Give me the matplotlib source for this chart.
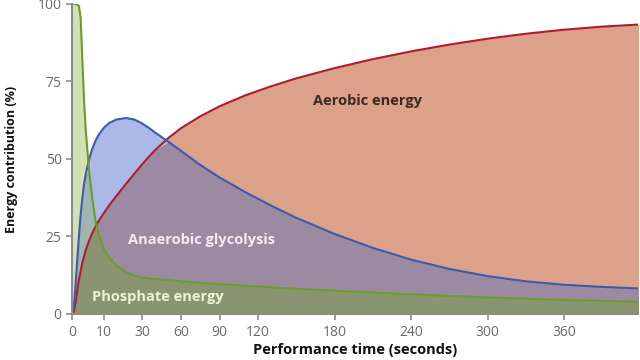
import numpy as np
import matplotlib
matplotlib.use("Agg")
import matplotlib.pyplot as plt

# ---- data ----
time_s = [0, 0.5, 1, 1.5, 2, 2.5, 3, 3.5, 4, 5, 6, 7, 8, 10, 12, 15, 20, 25, 30, 35,
          40, 50, 60, 75, 90, 110, 130, 150, 180, 210, 240, 270, 300, 330, 360, 390, 420]
phosphate = [100, 100, 100, 99.8, 99.3, 95.5, 82, 69, 59.5, 46.5, 37.5, 30.5, 25.8, 21, 18.2, 15.6, 13.4, 12.3, 11.8, 11.5,
             11.3, 10.9, 10.5, 10.0, 9.6, 9.1, 8.6, 8.1, 7.5, 6.9, 6.3, 5.8, 5.3, 4.9, 4.5, 4.2, 3.9]
glycolysis = [0, 2, 9, 17, 25, 32, 37.5, 41.8, 45, 49.8, 53.2, 55.7, 57.6, 60.1, 61.6, 62.7, 63.2, 62.7, 61.5, 60,
              58.4, 55.5, 52.5, 48, 44, 39.3, 35, 31, 25.8, 21.3, 17.5, 14.5, 12.2, 10.5, 9.4, 8.7, 8.2]
aerobic = [0, 0.5, 3.5, 7.5, 11, 13.8, 16.5, 18.6, 20.5, 23.5, 26, 28, 29.8, 32.6, 35, 38, 42, 45.3, 48.2, 50.7,
           53, 56.8, 60, 63.8, 67, 70.5, 73.4, 76, 79.3, 82.2, 84.7, 86.9, 88.8, 90.4, 91.7, 92.7, 93.4]

x_ticks = [0, 10, 30, 60, 90, 120, 180, 240, 300, 360]
y_ticks = [0, 25, 50, 75, 100]

t = np.array(time_s, dtype=float)
ph = np.array(phosphate)
gl = np.array(glycolysis)
ae = np.array(aerobic)

# smooth non-linear time axis (early seconds stretched, linear afterwards)
_grid = np.linspace(0, 2000, 20001)

def fwd(v):
    v = np.asarray(v, dtype=float)
    return 1.2767 * v + 32.8 * np.tanh(v / 14.9)

_pgrid = fwd(_grid)

def inv(v):
    return np.interp(v, _pgrid, _grid)

fig = plt.figure(figsize=(6.4, 3.6), dpi=100)
ax = fig.add_axes([0.1125, 0.128, 0.885, 0.861])
ax.set_xscale('function', functions=(fwd, inv))

c_aer = '#dba189'
c_gly = '#abb8e8'
c_gly_aer = '#9c8aa2'
c_pho = '#d3e0b4'
c_pho_gly = '#9fb5b0'
c_pho_aer = '#8b9470'

ax.fill_between(t, 0, ae, color=c_aer, lw=0)
ax.fill_between(t, 0, gl, color=c_gly, lw=0)
ax.fill_between(t, 0, np.minimum(gl, ae), color=c_gly_aer, lw=0)
ax.fill_between(t, 0, ph, color=c_pho, lw=0)
ax.fill_between(t, 0, np.minimum(ph, gl), color=c_pho_gly, lw=0)
ax.fill_between(t, 0, np.minimum(ph, ae), color=c_pho_aer, lw=0)

ax.plot(t, ae, color='#b01c2c', lw=1.5)
ax.plot(t, gl, color='#3d5bab', lw=1.5)
ax.plot(t, ph, color='#6a9c2e', lw=1.5)

ax.set_xlim(0, 418)
ax.set_ylim(0, 100)
ax.set_xticks(x_ticks)
ax.set_xticklabels([str(v) for v in x_ticks])
ax.set_yticks(y_ticks)
ax.set_yticklabels([str(v) for v in y_ticks])

for s in ['top', 'right']:
    ax.spines[s].set_visible(False)
for s in ['left', 'bottom']:
    ax.spines[s].set_color('#8c8c8c')
    ax.spines[s].set_linewidth(1.5)
ax.tick_params(colors='#8c8c8c', labelcolor='#6a6a6a', length=4, width=1.2,
               labelsize=10)
ax.tick_params(axis='x', pad=4)
for lab in ax.get_xticklabels() + ax.get_yticklabels():
    lab.set_family('Open Sans')

ax.set_xlabel('Performance time (seconds)', fontsize=10.5, fontweight='bold',
              family='Open Sans', color='#111111', labelpad=2)
ax.set_ylabel('Energy contribution (%)', fontsize=9, fontweight='bold',
              family='Open Sans', color='#111111', labelpad=14)

ax.text(0.521, 0.687, 'Aerobic energy', transform=ax.transAxes, ha='center', va='center',
        fontsize=10.5, fontweight='bold', family='Open Sans', color='#3a2a22')
ax.text(0.228, 0.239, 'Anaerobic glycolysis', transform=ax.transAxes, ha='center', va='center',
        fontsize=10.5, fontweight='bold', family='Open Sans', color='#f3ecf4')
ax.text(0.152, 0.055, 'Phosphate energy', transform=ax.transAxes, ha='center', va='center',
        fontsize=10.5, fontweight='bold', family='Open Sans', color='#eef3cf')

fig.savefig('out.png', dpi=100)
